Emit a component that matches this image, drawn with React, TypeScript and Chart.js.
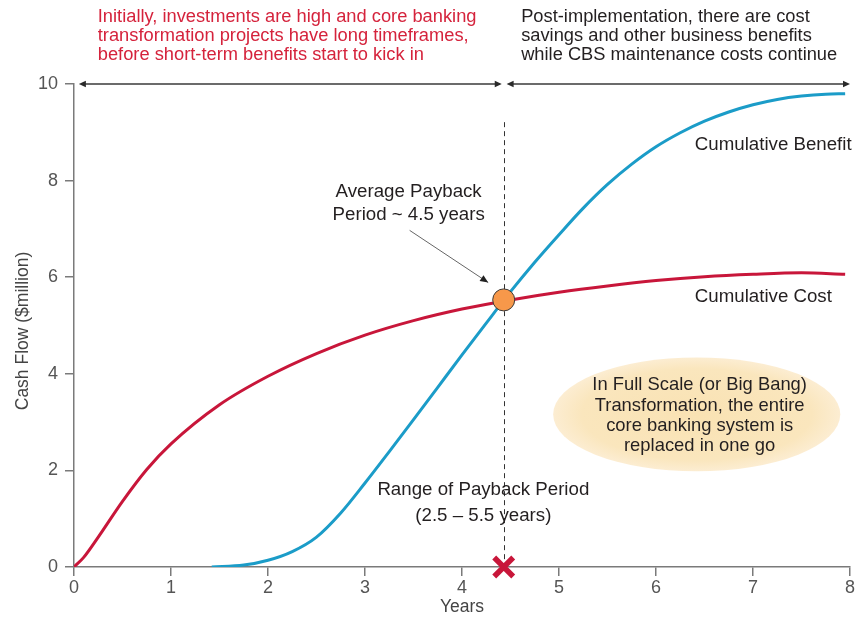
import React, { useEffect, useRef } from "react";
import { Chart, registerables } from "chart.js";

Chart.register(...registerables);

// ---- Data ----
const costYears = [0, 0.1, 0.25, 0.5, 0.75, 1.0, 1.5, 2.0, 2.5, 3.0, 3.5, 4.0, 4.5, 5.0, 5.5, 6.0, 6.5, 7.0, 7.5, 7.95];
const costValues = [0, 0.2, 0.62, 1.36, 2.02, 2.55, 3.36, 3.95, 4.42, 4.8, 5.1, 5.34, 5.53, 5.69, 5.82, 5.93, 6.01, 6.06, 6.09, 6.06];

const benefitYears = [1.42, 1.75, 2.0, 2.25, 2.5, 2.75, 3.0, 3.25, 3.5, 3.75, 4.0, 4.25, 4.5, 4.75, 5.0, 5.25, 5.5, 5.75, 6.0, 6.25, 6.5, 6.75, 7.0, 7.25, 7.5, 7.75, 7.95];
const benefitValues = [0, 0.04, 0.14, 0.32, 0.62, 1.12, 1.74, 2.39, 3.05, 3.72, 4.39, 5.05, 5.7, 6.31, 6.88, 7.43, 7.92, 8.34, 8.7, 8.99, 9.23, 9.42, 9.57, 9.68, 9.75, 9.79, 9.8];

const xTickValues = [0, 1, 2, 3, 4, 5, 6, 7, 8];
const yTickValues = [0, 2, 4, 6, 8, 10];

const paybackYear = 4.43;
const paybackValue = 5.53;
const paybackLineTop = 9.21;

const topLeftLines = [
  "Initially, investments are high and core banking",
  "transformation projects have long timeframes,",
  "before short-term benefits start to kick in",
];
const topRightLines = [
  "Post-implementation, there are cost",
  "savings and other business benefits",
  "while CBS maintenance costs continue",
];
const benefitLabel = "Cumulative Benefit";
const costLabel = "Cumulative Cost";
const averageLines = ["Average Payback", "Period ~ 4.5 years"];
const ellipseLines = [
  "In Full Scale (or Big Bang)",
  "Transformation, the entire",
  "core banking system is",
  "replaced in one go",
];
const rangeLines = ["Range of Payback Period", "(2.5 \u2013 5.5 years)"];
const xTitle = "Years";
const yTitle = "Cash Flow ($million)";

// ---- Styles ----
const FONT = '"Liberation Sans", Arial, Helvetica, sans-serif';
const RED = "#c8163a";
const BLUE = "#1b9cc8";
const DARK = "#231f20";
const TEXT_RED = "#d5233c";
const AXIS = "#7a7a7a";

function arrowHead(ctx: CanvasRenderingContext2D, x: number, y: number, angle: number, len: number, half: number) {
  ctx.save();
  ctx.translate(x, y);
  ctx.rotate(angle);
  ctx.beginPath();
  ctx.moveTo(0, 0);
  ctx.lineTo(-len, -half);
  ctx.lineTo(-len, half);
  ctx.closePath();
  ctx.fill();
  ctx.restore();
}

function doubleArrow(ctx: CanvasRenderingContext2D, x1: number, x2: number, y: number) {
  ctx.save();
  ctx.strokeStyle = "#3a3a3a";
  ctx.fillStyle = "#2a2a2a";
  ctx.lineWidth = 1.3;
  ctx.beginPath();
  ctx.moveTo(x1 + 4, y);
  ctx.lineTo(x2 - 4, y);
  ctx.stroke();
  arrowHead(ctx, x1, y, Math.PI, 7, 3.2);
  arrowHead(ctx, x2, y, 0, 7, 3.2);
  ctx.restore();
}

function drawLines(ctx: CanvasRenderingContext2D, lines: string[], x: number, y: number, lh: number, align: CanvasTextAlign, color: string, font: string) {
  ctx.save();
  ctx.fillStyle = color;
  ctx.font = font;
  ctx.textAlign = align;
  ctx.textBaseline = "middle";
  lines.forEach((l, i) => ctx.fillText(l, x, y + i * lh));
  ctx.restore();
}

const annotationPlugin = {
  id: "annotations",
  beforeDatasetsDraw(chart: any) {
    const ctx: CanvasRenderingContext2D = chart.ctx;
    const xs = chart.scales.x;
    const ys = chart.scales.y;
    // ellipse
    const cx = xs.getPixelForValue(6.42);
    const cy = ys.getPixelForValue(3.16);
    const rx = xs.getPixelForValue(6.42 + 1.48) - cx;
    const ry = cy - ys.getPixelForValue(3.16 + 1.18);
    ctx.save();
    ctx.translate(cx, cy);
    ctx.scale(1, ry / rx);
    const g = ctx.createRadialGradient(0, 0, 0, 0, 0, rx);
    g.addColorStop(0, "#f9e2b3");
    g.addColorStop(0.8, "#fae6bd");
    g.addColorStop(1, "#fcedd2");
    ctx.fillStyle = g;
    ctx.beginPath();
    ctx.arc(0, 0, rx, 0, Math.PI * 2);
    ctx.fill();
    ctx.restore();
    drawLines(ctx, ellipseLines, xs.getPixelForValue(6.45), ys.getPixelForValue(3.76), 20.3, "center", DARK, `18.4px ${FONT}`);

    // dashed vertical
    const px = xs.getPixelForValue(paybackYear);
    ctx.save();
    ctx.strokeStyle = "#333";
    ctx.lineWidth = 1;
    ctx.setLineDash([5, 4]);
    ctx.beginPath();
    ctx.moveTo(Math.round(px) + 0.5, ys.getPixelForValue(paybackLineTop));
    ctx.lineTo(Math.round(px) + 0.5, ys.getPixelForValue(0));
    ctx.stroke();
    ctx.restore();
  },
  afterDatasetsDraw(chart: any) {
    const ctx: CanvasRenderingContext2D = chart.ctx;
    const xs = chart.scales.x;
    const ys = chart.scales.y;
    const X = (v: number) => xs.getPixelForValue(v);
    const Y = (v: number) => ys.getPixelForValue(v);

    // top arrows
    doubleArrow(ctx, X(0.05), X(4.41), Y(10));
    doubleArrow(ctx, X(4.46), X(8), Y(10));

    // annotation pointer
    const ax1 = X(3.46), ay1 = Y(6.97), ax2 = X(4.27), ay2 = Y(5.89);
    ctx.save();
    ctx.strokeStyle = "#666";
    ctx.fillStyle = "#222";
    ctx.lineWidth = 1;
    ctx.beginPath();
    ctx.moveTo(ax1, ay1);
    ctx.lineTo(ax2, ay2);
    ctx.stroke();
    arrowHead(ctx, ax2, ay2, Math.atan2(ay2 - ay1, ax2 - ax1), 8, 3.5);
    ctx.restore();

    // payback dot
    ctx.save();
    ctx.fillStyle = "#f7984a";
    ctx.strokeStyle = "#3a3a3a";
    ctx.lineWidth = 1;
    ctx.beginPath();
    ctx.arc(X(paybackYear), Y(paybackValue), 11, 0, Math.PI * 2);
    ctx.fill();
    ctx.stroke();
    ctx.restore();

    // red X at axis
    const mx = X(paybackYear), my = Y(0);
    ctx.save();
    ctx.strokeStyle = RED;
    ctx.lineWidth = 5.5;
    ctx.lineCap = "butt";
    ctx.beginPath();
    ctx.moveTo(mx - 9.5, my - 9.5);
    ctx.lineTo(mx + 9.5, my + 9.5);
    ctx.moveTo(mx + 9.5, my - 9.5);
    ctx.lineTo(mx - 9.5, my + 9.5);
    ctx.stroke();
    ctx.restore();

    // texts
    drawLines(ctx, topLeftLines, X(0.245), Y(11.39), 19.2, "left", TEXT_RED, `18.3px ${FONT}`);
    drawLines(ctx, topRightLines, X(4.61), Y(11.39), 19.2, "left", DARK, `18.3px ${FONT}`);
    drawLines(ctx, [benefitLabel], X(6.4), Y(8.73), 0, "left", DARK, `18.7px ${FONT}`);
    drawLines(ctx, [costLabel], X(6.4), Y(5.6), 0, "left", DARK, `18.7px ${FONT}`);
    drawLines(ctx, averageLines, X(3.45), Y(7.76), 23, "center", DARK, `18.7px ${FONT}`);
    drawLines(ctx, rangeLines, X(4.22), Y(1.59), 26, "center", DARK, `18.7px ${FONT}`);

    // axis titles
    drawLines(ctx, [xTitle], (chart.chartArea.left + chart.chartArea.right) / 2, 607, 0, "center", "#444", `17.5px ${FONT}`);
    ctx.save();
    ctx.translate(23, 331);
    ctx.rotate(-Math.PI / 2);
    drawLines(ctx, [yTitle], 0, 0, 0, "center", "#444", `17.5px ${FONT}`);
    ctx.restore();
  },
};

export default function App() {
  const ref = useRef<HTMLCanvasElement | null>(null);

  useEffect(() => {
    document.body.style.margin = "0";
    const canvas = ref.current;
    if (!canvas) return;
    const chart = new Chart(canvas, {
      type: "line",
      data: {
        datasets: [
          {
            label: "Cumulative Cost",
            data: costYears.map((x, i) => ({ x, y: costValues[i] })),
            borderColor: RED,
            borderWidth: 3,
            pointRadius: 0,
            fill: false,
            cubicInterpolationMode: "monotone",
          },
          {
            label: "Cumulative Benefit",
            data: benefitYears.map((x, i) => ({ x, y: benefitValues[i] })),
            borderColor: BLUE,
            borderWidth: 3,
            pointRadius: 0,
            fill: false,
            cubicInterpolationMode: "monotone",
          },
        ],
      },
      options: {
        animation: false,
        responsive: false,
        devicePixelRatio: 1,
        layout: { padding: { left: 0, right: 15, top: 84, bottom: 0 } },
        plugins: { legend: { display: false }, tooltip: { enabled: false } },
        scales: {
          x: {
            type: "linear",
            min: 0,
            max: 8,
            afterFit: (s: any) => {
              s.height = 52;
            },
            afterBuildTicks: (s: any) => {
              s.ticks = xTickValues.map((v) => ({ value: v }));
            },
            border: { color: AXIS, width: 1.5 },
            grid: { drawOnChartArea: false, drawTicks: true, tickLength: 9, color: AXIS, lineWidth: 1.5 },
            ticks: { padding: 1, color: "#555", font: { size: 18, family: FONT } },
          },
          y: {
            type: "linear",
            min: 0,
            max: 10,
            afterFit: (s: any) => {
              s.width = 74;
            },
            afterBuildTicks: (s: any) => {
              s.ticks = yTickValues.map((v) => ({ value: v }));
            },
            border: { color: AXIS, width: 1.5 },
            grid: { drawOnChartArea: false, drawTicks: true, tickLength: 9, color: AXIS, lineWidth: 1.5 },
            ticks: { padding: 7, color: "#555", font: { size: 18, family: FONT } },
          },
        },
      },
      plugins: [annotationPlugin],
    });
    return () => chart.destroy();
  }, []);

  return (
    <div style={{ width: 865, height: 619, position: "relative" }}>
      <canvas ref={ref} width={865} height={619} style={{ display: "block" }} />
    </div>
  );
}
